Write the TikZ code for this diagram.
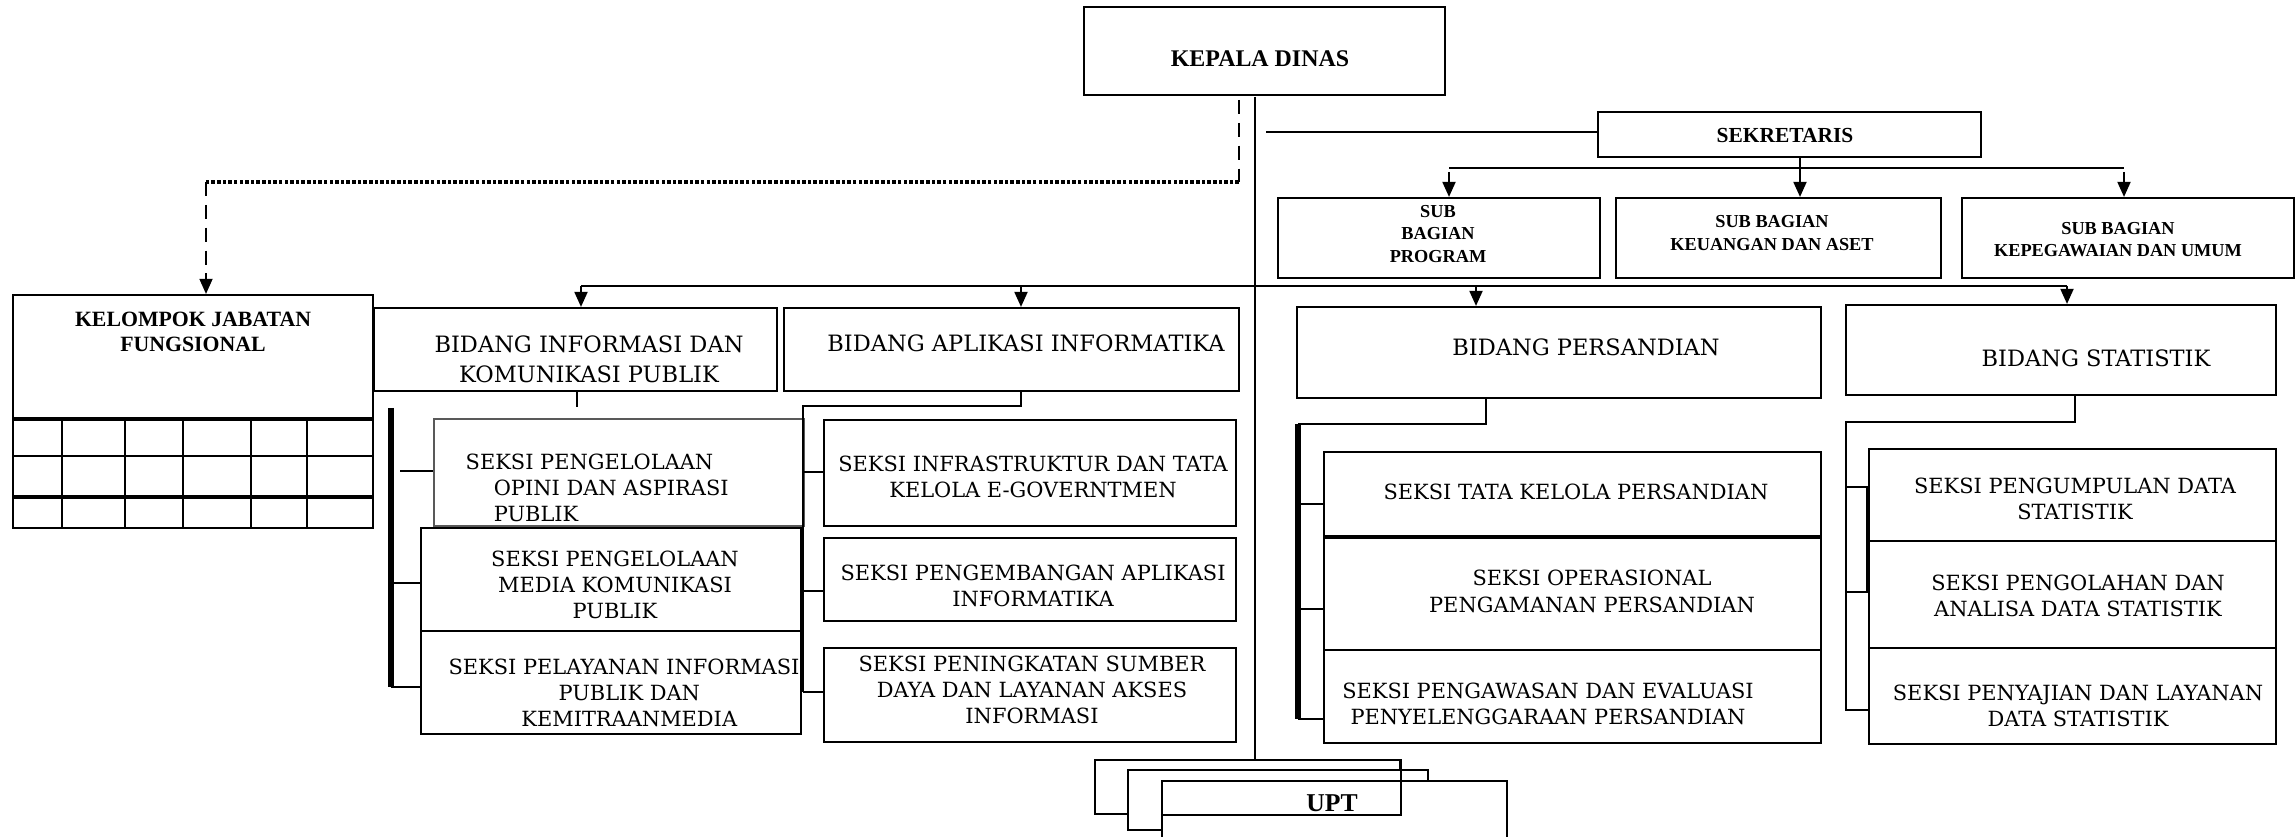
\documentclass[tikz,border=0pt]{standalone}
\usepackage{fontspec}
\newfontfamily\dvserif{DejaVu Serif}
\newfontfamily\libserif{Liberation Serif}
\usetikzlibrary{arrows.meta,fit}
\newcommand\fbk[2]{\dvserif\fontsize{#1}{#2}\selectfont}
\newcommand\ftb[2]{\libserif\bfseries\fontsize{#1}{#2}\selectfont}
\newcommand\bx[6][]{\node[box,#1,fit={(#3,#4) (#5,#6)}] (#2) {};}
\begin{document}
\begin{tikzpicture}[x=0.01cm,y=-0.01cm,
  box/.style={draw,line width=0.6pt,inner sep=0pt,fill=white},
  ln/.style={line width=0.6pt},
  bar/.style={line width=1.7pt},
  dsh/.style={line width=0.5pt,dash pattern=on 4pt off 2.5pt},
  dtt/.style={line width=0.9pt,dash pattern=on 1pt off 0.6pt},
  arr/.style={line width=0.6pt,-{Triangle[length=4.3pt,width=3.7pt]}},
  st/.style={inner sep=0pt,align=center,font=\fbk{5.95}{7.4}},
  bt/.style={inner sep=0pt,align=center,font=\fbk{6.4}{8.5}},
  hb/.style={inner sep=0pt,align=center,font=\ftb{6.8}{8}},
  sb/.style={inner sep=0pt,align=center,font=\ftb{5.2}{6.3}},
]
\clip (0,0) rectangle (2296,837);

% ---------- top ----------
\bx{kepala}{1084}{7}{1445}{95}
\node[hb] (t-kepala) at (1260,59) {KEPALA DINAS};

\bx{sekretaris}{1598}{112}{1981}{157}
\node[hb,font=\ftb{6.1}{7}] (t-sek) at (1785,136) {SEKRETARIS};

\bx{subprog}{1278}{198}{1600}{278}
\node[sb] (t-subprog) at (1438,234) {SUB\\BAGIAN\\PROGRAM};
\bx{subkeu}{1616}{198}{1941}{278}
\node[sb] (t-subkeu) at (1772,233) {SUB BAGIAN\\KEUANGAN DAN ASET};
\bx{subpeg}{1962}{198}{2294}{278}
\node[sb] (t-subpeg) at (2118,240) {SUB BAGIAN\\KEPEGAWAIAN DAN UMUM};

% ---------- kelompok jabatan fungsional ----------
\bx{kjf}{13}{295}{373}{528}
\node[hb,font=\ftb{6.2}{7.1}] (t-kjf) at (193,332) {KELOMPOK JABATAN\\FUNGSIONAL};
\draw[line width=1.3pt] (13,419) -- (373,419);
\draw[ln] (13,456) -- (373,456);
\draw[line width=0.9pt] (13,497) -- (373,497);
\foreach \cx in {62,125,183,251,307} \draw[ln] (\cx,419) -- (\cx,528);

% ---------- bidang ----------
\bx{bidinfo}{374}{308}{777}{391}
\node[bt] (t-bidinfo) at (589,359) {BIDANG INFORMASI DAN\\KOMUNIKASI PUBLIK};
\bx{bidapl}{784}{308}{1239}{391}
\node[bt] (t-bidapl) at (1026,343) {BIDANG APLIKASI INFORMATIKA};
\bx{bidsandi}{1297}{307}{1821}{398}
\node[bt] (t-bidsandi) at (1586,347) {BIDANG PERSANDIAN};
\bx{bidstat}{1846}{305}{2276}{395}
\node[bt] (t-bidstat) at (2096,358) {BIDANG STATISTIK};

% ---------- seksi informasi ----------
\bx[draw=black!65,line width=0.45pt]{opini}{434}{419}{804}{526}
\node[st,align=left,anchor=west] (t-opini) at (465,488)
  {SEKSI PENGELOLAAN\\\hspace*{8pt}OPINI DAN ASPIRASI\\\hspace*{8pt}PUBLIK};
\bx{media}{421}{528}{801}{631}
\node[st,font=\fbk{5.95}{7.5}] (t-media) at (615,585) {SEKSI PENGELOLAAN\\MEDIA KOMUNIKASI\\PUBLIK};
\bx{pelayanan}{421}{631}{801}{734}
\node[st] (t-pelayanan) at (624,693) {SEKSI PELAYANAN INFORMASI\\\hspace*{3pt}PUBLIK DAN\\\hspace*{3pt}KEMITRAANMEDIA};

% ---------- seksi aplikasi ----------
\bx{infra}{824}{420}{1236}{526}
\node[st] (t-infra) at (1033,477) {SEKSI INFRASTRUKTUR DAN TATA\\KELOLA E-GOVERNTMEN};
\bx{kembang}{824}{538}{1236}{621}
\node[st] (t-kembang) at (1033,586) {SEKSI PENGEMBANGAN APLIKASI\\INFORMATIKA};
\bx{tingkat}{824}{648}{1236}{742}
\node[st] (t-tingkat) at (1032,690) {SEKSI PENINGKATAN SUMBER\\DAYA DAN LAYANAN AKSES\\INFORMASI};

% ---------- seksi persandian ----------
\bx{tata}{1324}{452}{1821}{536}
\node[st] (t-tata) at (1576,492) {SEKSI TATA KELOLA PERSANDIAN};
\bx{oper}{1324}{538}{1821}{650}
\node[st,font=\fbk{5.95}{7.7}] (t-oper) at (1592,591) {SEKSI OPERASIONAL\\PENGAMANAN PERSANDIAN};
\bx{awas}{1324}{650}{1821}{743}
\node[st] (t-awas) at (1548,704) {SEKSI PENGAWASAN DAN EVALUASI\\PENYELENGGARAAN PERSANDIAN};

% ---------- seksi statistik ----------
\bx{kumpul}{1869}{449}{2276}{541}
\node[st] (t-kumpul) at (2075,499) {SEKSI PENGUMPULAN DATA\\STATISTIK};
\bx{olah}{1869}{541}{2276}{648}
\node[st] (t-olah) at (2078,596) {SEKSI PENGOLAHAN DAN\\ANALISA DATA STATISTIK};
\bx{saji}{1869}{648}{2276}{744}
\node[st] (t-saji) at (2078,706) {SEKSI PENYAJIAN DAN LAYANAN\\DATA STATISTIK};

% ---------- UPT ----------
\bx{uptc}{1095}{760}{1400}{814}
\bx{uptb}{1128}{770}{1428}{830}
\bx{upta}{1162}{781}{1507}{860}
\draw[ln] (upta.west |- uptc.south) -- (uptc.south east) -- (uptc.north east);
\node[hb,font=\ftb{7.3}{8}] (t-upt) at (1332,803) {UPT};

% ---------- connectors ----------
% main spine
\coordinate (m0) at (1255,97);
\draw[ln] (m0) -- (m0 |- uptc.north);
% sekretaris
\coordinate (sk0) at (1266,132);
\draw[ln] (sk0) -- (sk0 -| sekretaris.west);
\coordinate (sbm) at (1800,168);
\coordinate (sbl) at (1449,168);
\coordinate (sbr) at (2124,168);
\draw[ln] (sbm |- sekretaris.south) -- (sbm);
\draw[ln] (sbl) -- (sbr);
\draw[arr] (sbl) ++(0,4) -- (sbl |- subprog.north);
\draw[arr] (sbm) -- (sbm |- subkeu.north);
\draw[arr] (sbr) ++(0,4) -- (sbr |- subpeg.north);
% bidang bus
\coordinate (bb1) at (581,286);
\coordinate (bb2) at (1021,286);
\coordinate (bb3) at (1476,286);
\coordinate (bb4) at (2067,286);
\draw[ln] (bb1) -- (bb4);
\draw[arr] (bb1) -- (bb1 |- bidinfo.north);
\draw[arr] (bb2) -- (bb2 |- bidapl.north);
\draw[arr] (bb3) -- (bb3 |- bidsandi.north);
\draw[arr] (bb4) -- (bb4 |- bidstat.north);
% dashed to kelompok jabatan fungsional
\coordinate (d0) at (1239,100);
\coordinate (d1) at (1239,182);
\coordinate (d2) at (206,182);
\draw[dsh] (d0) -- (d1);
\draw[dtt] (d1) -- (d2);
\draw[dsh,-{Triangle[length=4.3pt,width=3.7pt]}] (d2) -- (d2 |- kjf.north);

% bidang informasi -> seksi
\coordinate (i0) at (577,391);
\draw[ln] (i0) -- ++(0,16);
\coordinate (ib0) at (391,408);
\coordinate (ib1) at (391,687);
\draw[bar] (ib0) -- (ib1);
\draw[ln] (400,471) -- (400,471 -| opini.west);
\draw[ln] (391,583) -- (391,583 -| media.west);
\draw[ln] (ib1) -- (ib1 -| pelayanan.west);

% bidang aplikasi -> seksi
\coordinate (a0) at (1021,406);
\coordinate (a1) at (803,406);
\coordinate (a2) at (803,692);
\draw[ln] (a0 |- bidapl.south) -- (a0) -- (a1) -- (a2);
\draw[ln] (803,472) -- (803,472 -| infra.west);
\draw[ln] (803,591) -- (803,591 -| kembang.west);
\draw[ln] (a2) -- (a2 -| tingkat.west);

% bidang persandian -> seksi
\coordinate (p0) at (1486,424);
\coordinate (p1) at (1298,424);
\coordinate (p2) at (1298,719);
\draw[ln,line width=0.8pt] (p0 |- bidsandi.south) -- (p0) -- (p1);
\draw[bar,line width=1.5pt] (p1) -- (p2);
\draw[ln] (1298,504) -- (1298,504 -| tata.west);
\draw[ln] (1298,609) -- (1298,609 -| oper.west);
\draw[ln] (p2) -- (p2 -| awas.west);

% bidang statistik -> seksi
\coordinate (s0) at (2075,422);
\coordinate (s1) at (1846,422);
\coordinate (s2) at (1846,710);
\draw[ln,line width=0.8pt] (s0 |- bidstat.south) -- (s0) -- (s1) -- (s2) -- (s2 -| saji.west);
\draw[ln] (1846,487) -- (1868,487);
\draw[ln] (1846,592) -- (1870,592);
\draw[line width=1pt] (1868,487) -- (1868,592);
\end{tikzpicture}
\end{document}
